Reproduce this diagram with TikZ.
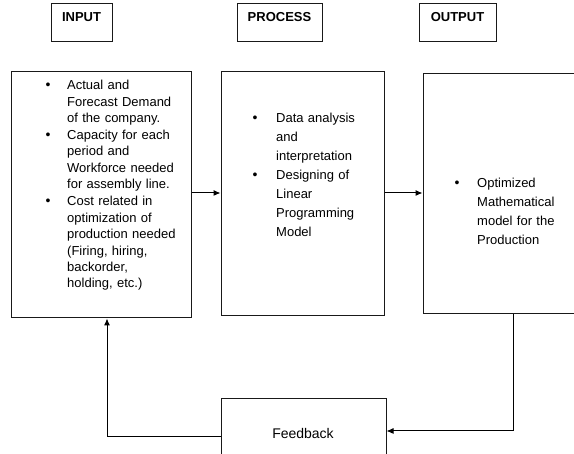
\documentclass[tikz,border=0pt]{standalone}
\usepackage{fontspec}
\setmainfont{Liberation Sans}
\usetikzlibrary{arrows.meta}
\begin{document}
\begin{tikzpicture}[x=1pt,y=-1pt,
  box/.style={draw=black!90, line width=1pt, inner sep=0pt},
  hdr/.style={box, minimum height=38pt},
  hdrtxt/.style={font=\fontsize{13}{15}\selectfont\bfseries, inner sep=0pt},
  itemA/.style={anchor=base west, inner sep=0pt, align=left, text width=130pt,
    font=\fontsize{13}{16.4}\selectfont},
  itemB/.style={itemA, font=\fontsize{13}{19}\selectfont},
  bul/.style={anchor=base, inner sep=0pt, font=\fontsize{14}{15}\selectfont},
  arr/.style={line width=1pt, -{Latex[length=7pt,width=6pt]}}]
\useasboundingbox (0,0) rectangle (574,454);
\clip (0,0) rectangle (574,454);

% column headers
\node[hdr, minimum width=61pt] (hin) at (81.5,23) {};
\node[hdrtxt] (hint) at (81.5,17.5) {INPUT};
\node[hdr, minimum width=85pt] (hpr) at (279.5,23) {};
\node[hdrtxt] (hprt) at (279.5,17.5) {PROCESS};
\node[hdr, minimum width=77pt] (hout) at (457.5,23) {};
\node[hdrtxt] (houtt) at (457.5,17.5) {OUTPUT};

% main blocks
\node[box, minimum width=180pt, minimum height=246pt] (in) at (101,195) {};
\node[box, minimum width=163pt, minimum height=244pt] (pr) at (302.5,194) {};
\node[box, minimum width=174pt, minimum height=240pt] (out) at (510,194) {};
\node[box, minimum width=165pt, minimum height=71pt] (fb) at (303.5,434.5) {};
\node[font=\fontsize{14}{16}\selectfont, inner sep=0pt] (fbt) at (303,433) {Feedback};

% input items
\node[bul] (b1) at (48,90) {•};
\node[itemA] (i1) at (67,90) {Actual and\\Forecast Demand\\of the company.};
\node[bul] (b2) at (48,139.5) {•};
\node[itemA] (i2) at (67,139.5) {Capacity for each\\period and\\Workforce needed\\for assembly line.};
\node[bul] (b3) at (48,206) {•};
\node[itemA] (i3) at (67,206) {Cost related in\\optimization of\\production needed\\(Firing, hiring,\\backorder,\\holding, etc.)};

% process items
\node[bul] (b4) at (255,122.4) {•};
\node[itemB] (i4) at (276,122.4) {Data analysis\\and\\interpretation};
\node[bul] (b5) at (255,179.7) {•};
\node[itemB] (i5) at (276,179.7) {Designing of\\Linear\\Programming\\Model};

% output items
\node[bul] (b6) at (457,187.4) {•};
\node[itemB] (i6) at (477,187.4) {Optimized\\Mathematical\\model for the\\Production};

% connectors
\coordinate (ya) at (0,193);
\coordinate (yb) at (0,431);
\coordinate (yc) at (0,437);
\coordinate (xo) at (513,0);
\coordinate (xi) at (107,0);
\draw[arr] (in.east |- ya) -- (pr.west |- ya);
\draw[arr] (pr.east |- ya) -- (out.west |- ya);
\draw[arr] (out.south -| xo) |- (fb.east |- yb);
\draw[arr] (fb.west |- yc) -| (in.south -| xi);
\end{tikzpicture}
\end{document}
